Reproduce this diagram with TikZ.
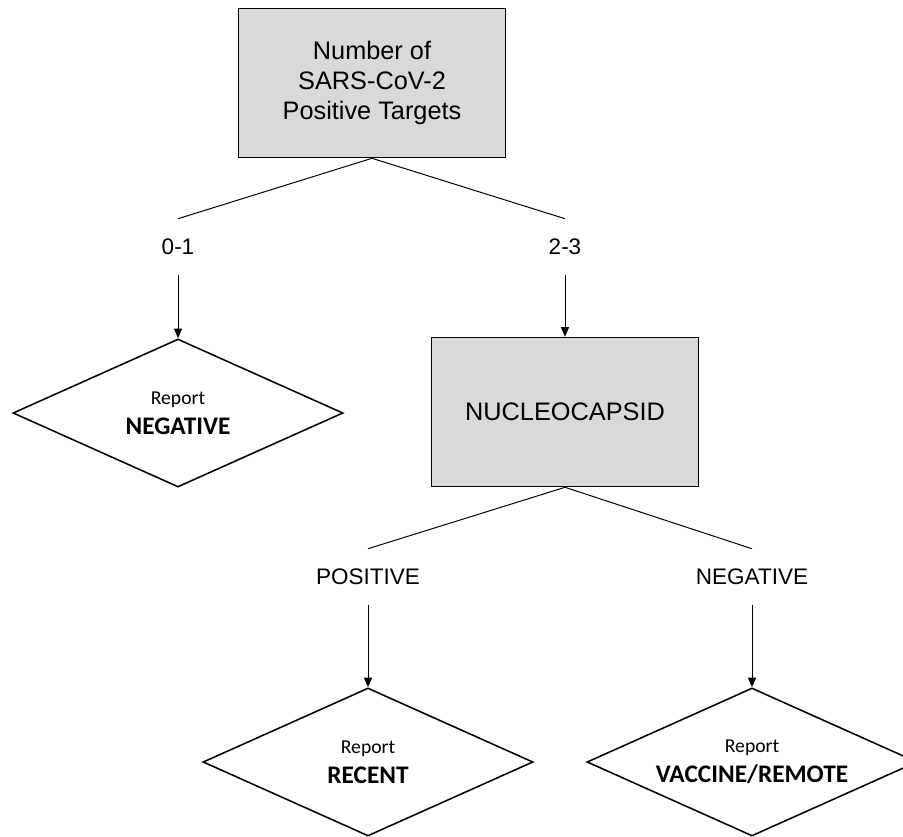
\documentclass[tikz,border=0pt]{standalone}
\usepackage{fontspec}
\setmainfont{Liberation Sans}
\newfontfamily\calfont{Carlito}
\usepackage{xcolor}
\usetikzlibrary{arrows.meta,shapes.geometric}
\definecolor{boxGray}{HTML}{D9D9D9}

\begin{document}
\begin{tikzpicture}[
  x=0.025cm, y=-0.025cm,
  box/.style={rectangle, draw, line width=1.1pt, fill=boxGray, align=center,
    minimum width=6.675cm, minimum height=3.725cm,
    font=\fontsize{18}{21.5}\selectfont},
  report/.style={diamond, draw, line width=1.1pt, fill=white, align=center,
    inner sep=0pt, shape aspect=2.23, minimum width=8.25cm, minimum height=3.7cm,
    font=\calfont\fontsize{14}{21}\selectfont},
  branch/.style={inner sep=0pt, minimum height=1.4cm, font=\fontsize{16}{19}\selectfont},
  split/.style={line width=.7pt},
  flow/.style={-{Triangle[length=2.4mm,width=2mm]}, line width=.7pt}
]
  \useasboundingbox (0,0) rectangle (903,837);
  \node[box] (targets) at (372,83) {Number of\\SARS-CoV-2\\Positive Targets};
  \node[branch] (low) at (178,247) {0-1};
  \node[branch] (high) at (565,247) {2-3};
  \node[report] (neg) at (178,413) {Report\\{\fontsize{18}{21}\selectfont\bfseries NEGATIVE}};
  \node[box] (nuc) at (565,412) {NUCLEOCAPSID};
  \node[branch] (npos) at (368,577) {POSITIVE};
  \node[branch] (nneg) at (752,577) {NEGATIVE};
  \node[report] (recent) at (368,762) {Report\\{\fontsize{18}{21}\selectfont\bfseries RECENT}};
  \node[report] (vacc) at (752,762) {Report\\{\fontsize{18}{21}\selectfont\bfseries VACCINE/REMOTE}};
  % first split
  \draw[split] (low.north) -- (targets.south) -- (high.north);
  \draw[flow] (low.south) -- (neg.north);
  \draw[flow] (high.south) -- (nuc.north);
  % second split
  \draw[split] (npos.north) -- (nuc.south) -- (nneg.north);
  \draw[flow] (npos.south) -- (recent.north);
  \draw[flow] (nneg.south) -- (vacc.north);
\end{tikzpicture}
\end{document}
